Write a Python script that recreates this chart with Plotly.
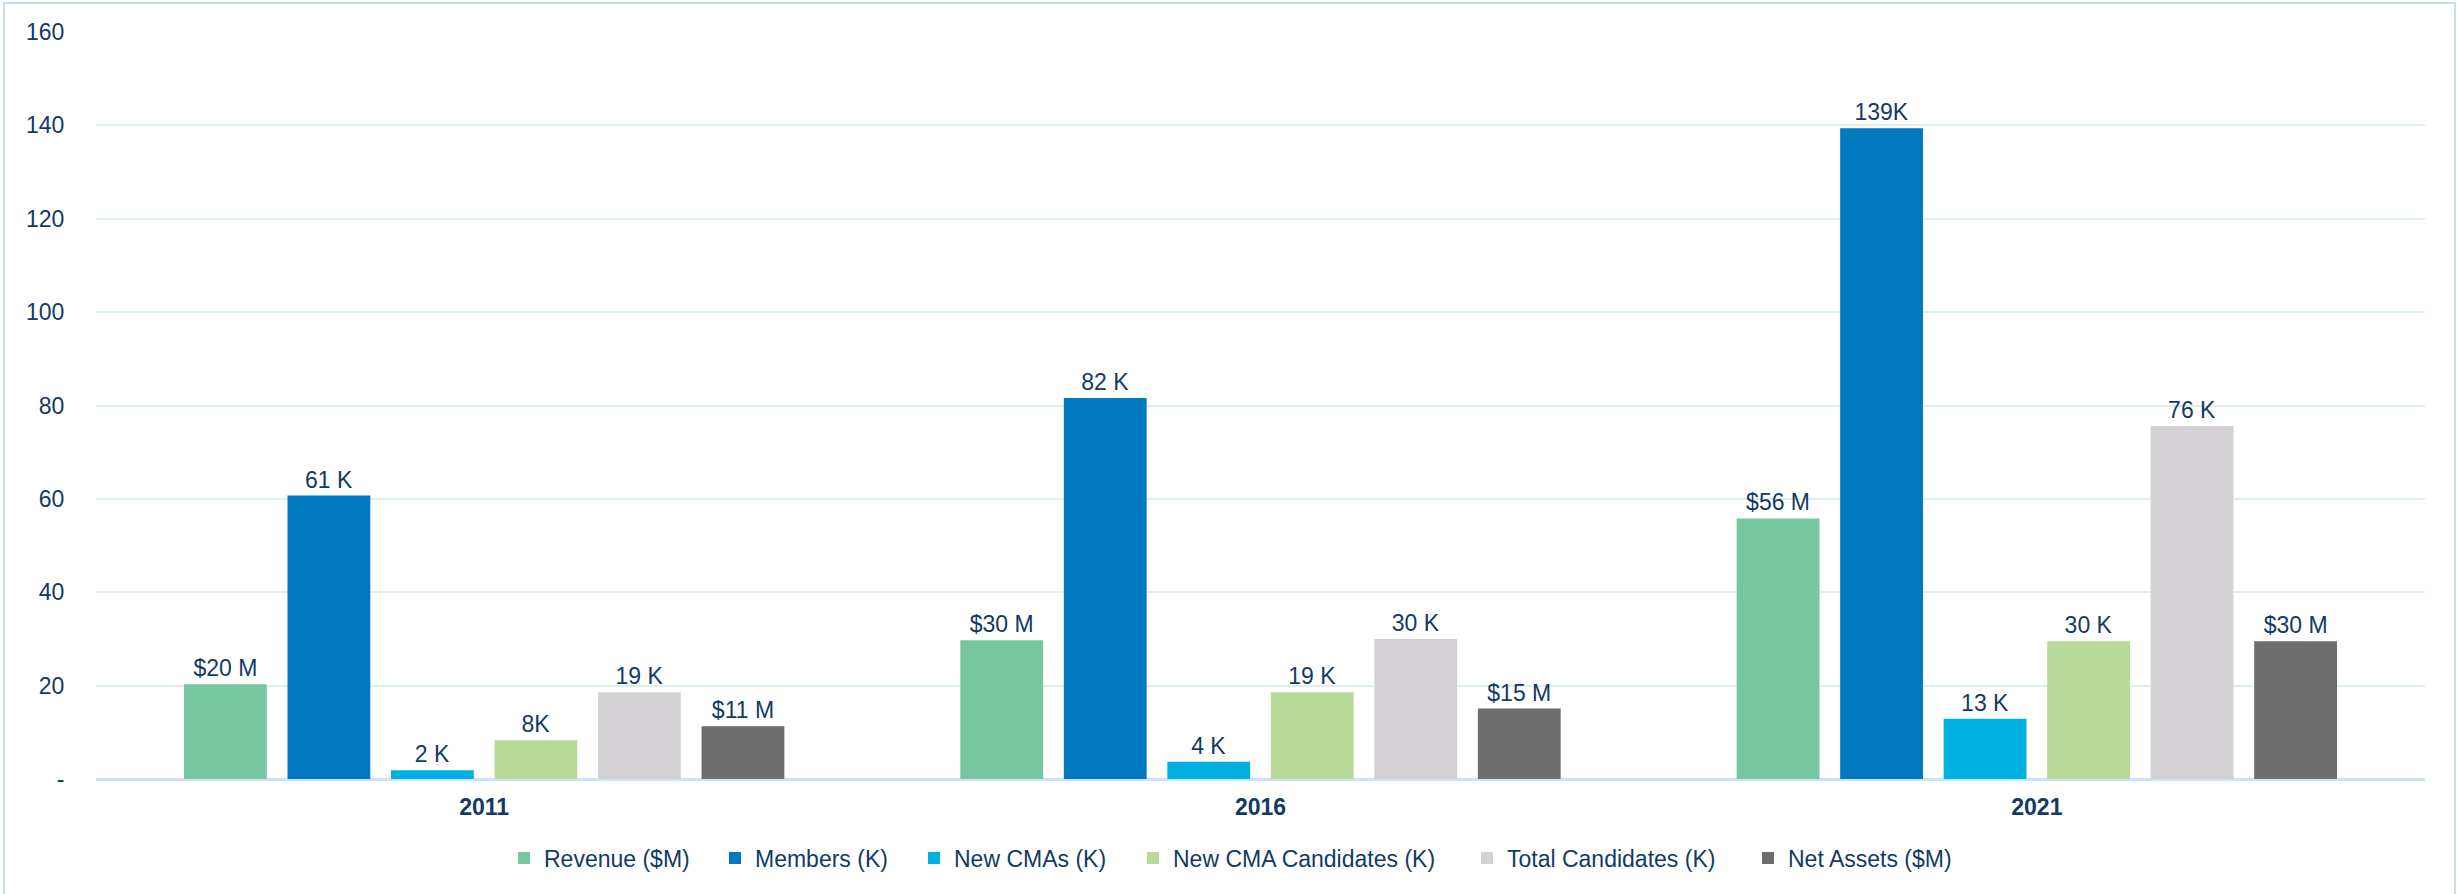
import plotly.graph_objects as go

years = ["2011", "2016", "2021"]
series_names = ["Revenue ($M)", "Members (K)", "New CMAs (K)",
                "New CMA Candidates (K)", "Total Candidates (K)", "Net Assets ($M)"]
revenue = [20.3, 29.7, 55.8]
members = [60.7, 81.6, 139.4]
new_cmas = [1.9, 3.7, 12.9]
new_cma_candidates = [8.3, 18.6, 29.5]
total_candidates = [18.6, 30.0, 75.6]
net_assets = [11.3, 15.1, 29.5]

revenue_labels = ["$20 M", "$30 M", "$56 M"]
members_labels = ["61 K", "82 K", "139K"]
new_cmas_labels = ["2 K", "4 K", "13 K"]
new_cma_candidates_labels = ["8K", "19 K", "30 K"]
total_candidates_labels = ["19 K", "30 K", "76 K"]
net_assets_labels = ["$11 M", "$15 M", "$30 M"]

colors = ["#76c6a2", "#0079c1", "#00b0e0", "#b8da99", "#d3d1d4", "#6d6d6e"]

y_ticks = [0, 20, 40, 60, 80, 100, 120, 140, 160]
y_ticktext = ["-", "20", "40", "60", "80", "100", "120", "140", "160"]

values = [revenue, members, new_cmas, new_cma_candidates, total_candidates, net_assets]
labels = [revenue_labels, members_labels, new_cmas_labels,
          new_cma_candidates_labels, total_candidates_labels, net_assets_labels]

TXT = "#123a66"
FONT = "Liberation Sans, Arial, sans-serif"

W, H = 2458, 894
L, R, T, B = 96, 33, 32, 115
pw, ph = W - L - R, H - T - B


def px_x(p):
    return (p - L) / pw


def px_y(p):
    return (T + ph - p) / ph


# left edge of each legend swatch in page pixels
legend_lefts = [518, 729, 928, 1147, 1481, 1762]
legend_mid_y = 858

fig = go.Figure()
legend_layouts = {}
for i, (name, vals, labs, col) in enumerate(zip(series_names, values, labels, colors)):
    lname = "legend" if i == 0 else f"legend{i + 1}"
    fig.add_trace(go.Bar(
        x=years, y=vals, name=name, marker_color=col, marker_line_width=0,
        text=labs, textposition="outside", cliponaxis=False,
        constraintext="none",
        textfont=dict(size=23, color=TXT, family=FONT),
        hoverinfo="skip", legend=lname,
    ))
    legend_layouts[lname] = dict(
        orientation="h", x=px_x(legend_lefts[i] - 14), xanchor="left",
        y=px_y(legend_mid_y), yanchor="middle",
        font=dict(size=23, color=TXT, family=FONT),
        itemwidth=30, bgcolor="rgba(0,0,0,0)", borderwidth=0,
    )

fig.add_shape(type="rect", xref="paper", yref="paper",
              x0=px_x(4), x1=px_x(2455), y0=px_y(900), y1=px_y(3),
              line=dict(color="#c6ddf8", width=2), fillcolor="rgba(0,0,0,0)",
              layer="below")

fig.update_layout(
    width=W, height=H,
    margin=dict(l=L, r=R, t=T, b=B, pad=0),
    paper_bgcolor="white", plot_bgcolor="white",
    barmode="group", bargap=0.2, bargroupgap=0.2,
    font=dict(family=FONT, size=23, color=TXT),
    showlegend=True,
    xaxis=dict(showgrid=False, showline=False, ticks="outside", ticklen=7,
               tickcolor="rgba(0,0,0,0)",
               tickfont=dict(size=23, color=TXT, family=FONT),
               tickprefix="<b>", ticksuffix="</b>"),
    yaxis=dict(range=[0, 160], tickvals=y_ticks, ticktext=y_ticktext,
               showgrid=True, gridcolor="#dbf0e7", gridwidth=2,
               zeroline=True, zerolinecolor="#cde2fa", zerolinewidth=3,
               showline=False, ticks="outside", ticklen=26,
               tickcolor="rgba(0,0,0,0)",
               tickfont=dict(size=23, color=TXT, family=FONT)),
    **legend_layouts,
)

fig.write_html("out.html",
               config={"displayModeBar": False, "staticPlot": True},
               post_script="document.body.style.margin='0';document.body.style.overflow='hidden';")
